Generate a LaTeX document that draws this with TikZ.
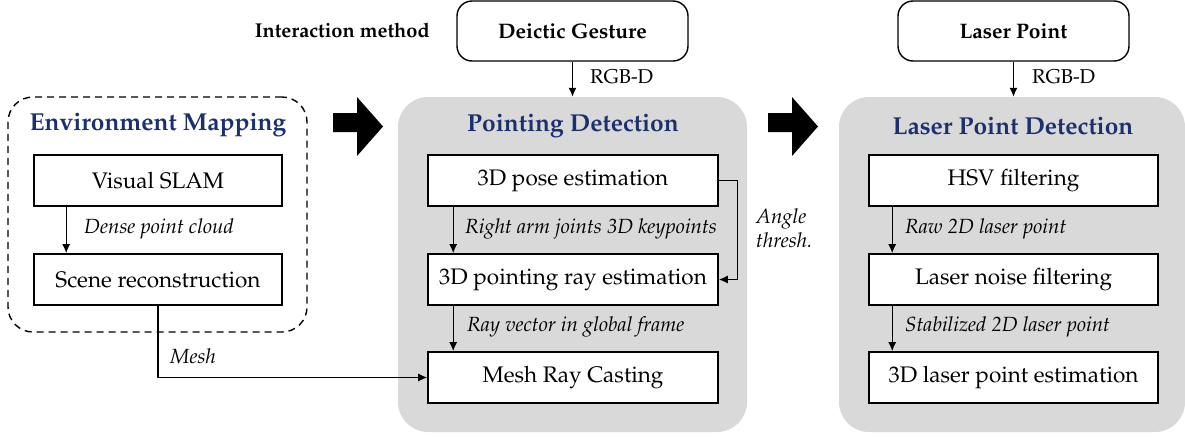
\documentclass[tikz,border=0pt]{standalone}
\usepackage[T1]{fontenc}
\usepackage{mathpazo}
\usetikzlibrary{arrows.meta}
\definecolor{navy}{RGB}{28,48,110}
\definecolor{panelgray}{RGB}{217,217,217}
\tikzset{
  box/.style={draw=black, line width=1.6pt, fill=white, inner sep=0pt, minimum height=51pt, font=\fontsize{22.5}{27}\selectfont},
  srcbox/.style={draw=black, line width=1.4pt, fill=white, rounded corners=15pt, inner sep=0pt, minimum width=231pt, minimum height=60pt, font=\bfseries\fontsize{21}{25}\selectfont},
  panel/.style={fill=panelgray, draw=none, rounded corners=30pt, inner sep=0pt},
  title/.style={text=navy, font=\bfseries\fontsize{24.5}{28}\selectfont, inner sep=0pt},
  lbl/.style={font=\itshape\fontsize{20.5}{24}\selectfont, inner sep=0pt, anchor=west},
  rgb/.style={font=\fontsize{20}{24}\selectfont, inner sep=0pt, anchor=west},
  arr/.style={line width=1.3pt, -{Latex[length=9pt,width=8pt]}},
  bigarrow/.style={fill=black, draw=none}
}
\begin{document}
\begin{tikzpicture}[x=1pt,y=-1pt]
\useasboundingbox (0,0) rectangle (1185,437);

% panels
\node[panel, minimum width=349pt, minimum height=335pt] (pdpanel) at (572.5,264.5) {};
\node[panel, minimum width=346pt, minimum height=335pt] (lpdpanel) at (1012,264.5) {};
\node[draw=black, dash pattern=on 7pt off 5pt, line width=1.4pt, rounded corners=25pt, minimum width=299pt, minimum height=235pt, inner sep=0pt] (envpanel) at (157.5,214.5) {};

% titles
\node[title] (envtitle) at (158,125) {Environment Mapping};
\node[title] (pdtitle) at (573,126) {Pointing Detection};
\node[title] (lpdtitle) at (1013,126) {Laser Point Detection};

% source boxes
\node[font=\bfseries\fontsize{20}{24}\selectfont, inner sep=0pt, anchor=east] (intm) at (430,30) {Interaction method};
\node[srcbox] (gest) at (572.5,31) {Deictic Gesture};
\node[srcbox] (lp) at (1013.5,31) {Laser Point};

% environment boxes
\node[box, minimum width=248pt] (slam) at (158,180.5) {Visual SLAM};
\node[box, minimum width=248pt] (scene) at (158,279.5) {Scene reconstruction};

% pointing boxes
\node[box, minimum width=290pt] (pose) at (573,180.5) {3D pose estimation};
\node[box, minimum width=290pt] (ray) at (573,279.5) {3D pointing ray estimation};
\node[box, minimum width=290pt] (mrc) at (573,377.5) {Mesh Ray Casting};

% laser boxes
\node[box, minimum width=289pt] (hsv) at (1013.5,180.5) {HSV filtering};
\node[box, minimum width=289pt] (lnf) at (1013.5,279.5) {Laser noise filtering};
\node[box, minimum width=289pt] (lpe) at (1013.5,377.5) {3D laser point estimation};

% big arrows
\fill[bigarrow] (333,113) -- (357,113) -- (357,97) -- (383,126.5) -- (357,156) -- (357,132) -- (333,132) -- cycle;
\fill[bigarrow] (768,113) -- (792,113) -- (792,97) -- (818,126.5) -- (792,156) -- (792,132) -- (768,132) -- cycle;

% connectors
\draw[arr] ([xshift=33pt]slam.south west) -- ([xshift=33pt]scene.north west);
\node[lbl] (dpc) at (84,229) {Dense point cloud};

\draw[arr] (scene.south) |- (mrc.west);
\node[lbl] (meshl) at (170,356) {Mesh};

\draw[arr] (gest.south) -- (pdpanel.north);
\node[rgb] (rgb1) at (590,77) {RGB-D};
\draw[arr] (lp.south) -- (lp.south |- lpdpanel.north);
\node[rgb] (rgb2) at (1032,77) {RGB-D};

\draw[arr] ([xshift=26pt]pose.south west) -- ([xshift=26pt]ray.north west);
\node[lbl] (rajk) at (465,229) {Right arm joints 3D keypoints};
\draw[arr] ([xshift=26pt]ray.south west) -- ([xshift=26pt]mrc.north west);
\node[lbl] (rvgf) at (467,327) {Ray vector in global frame};

\draw[arr] (pose.east) -- ++(19,0) |- (ray.east);
\node[font=\itshape\fontsize{20.5}{24}\selectfont, inner sep=0pt, anchor=west, align=left] (angle) at (756,228) {Angle\\thresh.};

\draw[arr] ([xshift=24pt]hsv.south west) -- ([xshift=24pt]lnf.north west);
\node[lbl] (r2d) at (905,229) {Raw 2D laser point};
\draw[arr] ([xshift=24pt]lnf.south west) -- ([xshift=24pt]lpe.north west);
\node[lbl] (s2d) at (905,327) {Stabilized 2D laser point};
\end{tikzpicture}
\end{document}
